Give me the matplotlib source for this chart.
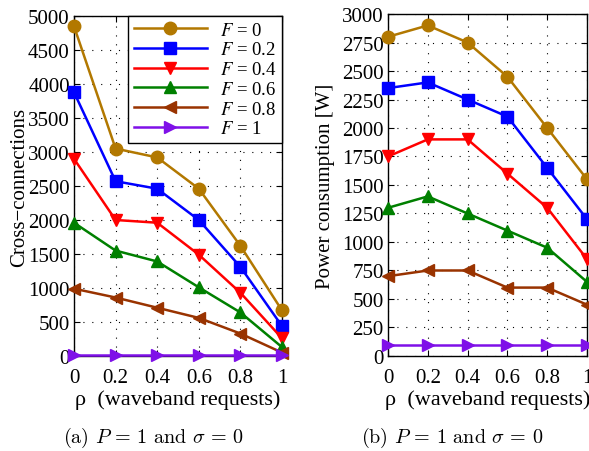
import matplotlib
matplotlib.use("Agg")
import matplotlib.pyplot as plt

rho = [0, 0.2, 0.4, 0.6, 0.8, 1]
f_labels = ['$F$ = 0', '$F$ = 0.2', '$F$ = 0.4', '$F$ = 0.6', '$F$ = 0.8', '$F$ = 1']

# cross-connections (left panel)
cross = [
    [4850, 3050, 2920, 2460, 1620, 670],
    [3880, 2570, 2460, 2000, 1310, 440],
    [2900, 2000, 1960, 1490, 930, 260],
    [1960, 1550, 1390, 1010, 640, 130],
    [990, 860, 710, 560, 330, 50],
    [10, 10, 10, 10, 10, 10],
]

# power consumption [W] (right panel)
power = [
    [2800, 2900, 2750, 2450, 2000, 1550],
    [2350, 2400, 2250, 2100, 1650, 1200],
    [1750, 1900, 1900, 1600, 1300, 850],
    [1300, 1400, 1250, 1100, 950, 650],
    [700, 750, 750, 600, 600, 450],
    [100, 100, 100, 100, 100, 100],
]

colors = ['#B27800', '#0000FF', '#FF0000', '#008000', '#993300', '#7F10E8']
markers = ['o', 's', 'v', '^', '<', '>']

plt.rcParams['font.family'] = ['Liberation Serif', 'DejaVu Serif']
plt.rcParams['mathtext.fontset'] = 'stix'

fig = plt.figure(figsize=(5.89, 4.52), dpi=100)
ax1 = fig.add_axes([0.1256, 0.2102, 0.3532, 0.7522])
ax2 = fig.add_axes([0.6587, 0.2102, 0.3379, 0.7566])


def draw(ax, data):
    for vals, c, m, lab in zip(data, colors, markers, f_labels):
        ax.plot(rho, vals, color=c, marker=m, markersize=9, linewidth=1.8,
                label=lab, clip_on=False, zorder=3)
    ax.set_xlim(0, 1)
    ax.set_xticks(rho)
    ax.set_xticklabels(['0', '0.2', '0.4', '0.6', '0.8', '1'])
    ax.grid(True, linestyle=(0, (1, 7)), color='black', linewidth=0.8)
    ax.tick_params(direction='in', labelsize=15, length=4, width=0.8,
                   top=True, right=True)
    ax.tick_params(axis='x', pad=9)
    ax.tick_params(axis='y', pad=3)
    for s in ax.spines.values():
        s.set_linewidth(1.0)
    ax.set_xlabel('ρ  (waveband requests)', fontsize=16, labelpad=1)


draw(ax1, cross)
ax1.set_ylim(0, 5000)
ax1.set_yticks(range(0, 5001, 500))
ax1.set_ylabel('Cross\u2212connections', fontsize=15, labelpad=-1)
leg = ax1.legend(loc='upper right', fontsize=13.5, frameon=True, fancybox=False,
                 edgecolor='black', framealpha=1, borderaxespad=0,
                 handlelength=3.9, labelspacing=0.14, borderpad=0.3,
                 handletextpad=0.7)
leg.get_frame().set_linewidth(1.0)

draw(ax2, power)
ax2.set_ylim(0, 3000)
ax2.set_yticks(range(0, 3001, 250))
ax2.set_ylabel('Power consumption [W]', fontsize=15, labelpad=5)

cap = dict(fontsize=14.5, ha='center', va='center', family='cmr10', math_fontfamily='cm')
fig.text(0.260, 1 - 438 / 452, r'(a) $P\,=\,1$ and $\sigma\,=\,0$', **cap)
fig.text(0.767, 1 - 438 / 452, r'(b) $P\,=\,1$ and $\sigma\,=\,0$', **cap)

fig.savefig('out.png', dpi=100)
